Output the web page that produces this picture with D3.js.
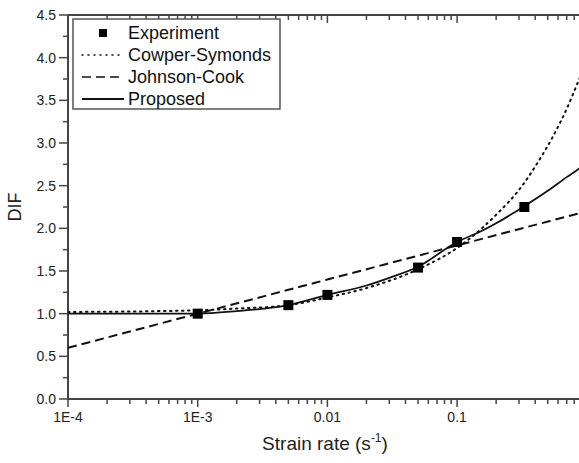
<!DOCTYPE html>
<html>
<head>
<meta charset="utf-8">
<script src="https://cdn.jsdelivr.net/npm/d3@7"></script>
<style>
  html, body { margin: 0; padding: 0; background: #fff; }
  svg { display: block; font-family: "Liberation Sans", Arial, sans-serif; }
</style>
</head>
<body>
<div id="chart"></div>
<script>
const width = 579;
const height = 463;

// Experimental points
const expRate = [0.001, 0.005, 0.01, 0.05, 0.1, 0.33];
const expDIF  = [1.0, 1.10, 1.22, 1.54, 1.84, 2.25];

// Cowper-Symonds curve
const csRate = [1e-4, 5e-4, 1e-3, 2e-3, 5e-3, 0.01, 0.02, 0.05, 0.1, 0.15, 0.2, 0.3, 0.43, 0.55, 0.7, 0.87, 1.0];
const csDIF  = [1.02, 1.03, 1.04, 1.06, 1.10, 1.19, 1.30, 1.52, 1.77, 1.98, 2.16, 2.45, 2.80, 3.08, 3.40, 3.74, 3.95];

// Johnson-Cook line
const jcRate = [1e-4, 1e-3, 0.01, 0.1, 1.0];
const jcDIF  = [0.60, 1.00, 1.40, 1.80, 2.20];

// Proposed model
const prRate = [1e-4, 5e-4, 1e-3, 2e-3, 5e-3, 0.01, 0.02, 0.03, 0.05, 0.1, 0.15, 0.2, 0.33, 0.5, 0.7, 0.87, 1.0];
const prDIF  = [1.0, 1.0, 1.0, 1.03, 1.10, 1.22, 1.33, 1.42, 1.55, 1.84, 1.96, 2.06, 2.26, 2.44, 2.60, 2.70, 2.78];

const xMajor = [1e-4, 1e-3, 0.01, 0.1, 1];
const xLabels = ["1E-4", "1E-3", "0.01", "0.1"];
const yMajor = [0, 0.5, 1, 1.5, 2, 2.5, 3, 3.5, 4, 4.5];

const legendNames = ["Experiment", "Cowper-Symonds", "Johnson-Cook", "Proposed"];

const mLeft = 68, mTop = 15, mBottom = 399;
const decade = 129.7;

const x = d3.scaleLog().domain([1e-4, 1]).range([mLeft, mLeft + 4 * decade]);
const y = d3.scaleLinear().domain([0, 4.5]).range([mBottom, mTop]);

const svg = d3.select("#chart").append("svg")
  .attr("width", width)
  .attr("height", height);

svg.append("defs").append("clipPath").attr("id", "plot")
  .append("rect")
  .attr("x", mLeft).attr("y", mTop)
  .attr("width", width - mLeft).attr("height", mBottom - mTop);

// minor ticks for log axis
const xMinor = [];
xMajor.slice(0, -1).forEach(m => {
  for (let k = 2; k <= 9; k++) xMinor.push(m * k);
});
const yMinor = d3.range(0.25, 4.5, 0.5);

const axisColor = "#444";

// bottom axis
const xb = svg.append("g");
xb.append("line")
  .attr("x1", mLeft).attr("x2", width)
  .attr("y1", mBottom).attr("y2", mBottom)
  .attr("stroke", axisColor).attr("stroke-width", 2);
xb.selectAll(".maj").data(xMajor).join("line")
  .attr("x1", x).attr("x2", x)
  .attr("y1", mBottom).attr("y2", mBottom + 8)
  .attr("stroke", axisColor).attr("stroke-width", 1.5);
xb.selectAll(".min").data(xMinor).join("line")
  .attr("x1", x).attr("x2", x)
  .attr("y1", mBottom).attr("y2", mBottom + 5)
  .attr("stroke", axisColor).attr("stroke-width", 1.5);
xb.selectAll("text").data(xLabels).join("text")
  .attr("x", (d, i) => x(xMajor[i]))
  .attr("y", mBottom + 23)
  .attr("text-anchor", "middle")
  .style("font-size", "14px")
  .attr("fill", "#222")
  .text(d => d);

// top axis (ticks inward)
const xt = svg.append("g");
xt.append("line")
  .attr("x1", mLeft).attr("x2", width)
  .attr("y1", mTop).attr("y2", mTop)
  .attr("stroke", axisColor).attr("stroke-width", 2);
xt.selectAll(".maj").data(xMajor).join("line")
  .attr("x1", x).attr("x2", x)
  .attr("y1", mTop).attr("y2", mTop + 8)
  .attr("stroke", axisColor).attr("stroke-width", 1.5);
xt.selectAll(".min").data(xMinor).join("line")
  .attr("x1", x).attr("x2", x)
  .attr("y1", mTop).attr("y2", mTop + 5)
  .attr("stroke", axisColor).attr("stroke-width", 1.5);

// left axis
const yl = svg.append("g");
yl.append("line")
  .attr("x1", mLeft).attr("x2", mLeft)
  .attr("y1", mTop).attr("y2", mBottom)
  .attr("stroke", axisColor).attr("stroke-width", 2);
yl.selectAll(".maj").data(yMajor).join("line")
  .attr("x1", mLeft - 9).attr("x2", mLeft)
  .attr("y1", y).attr("y2", y)
  .attr("stroke", axisColor).attr("stroke-width", 1.5);
yl.selectAll(".min").data(yMinor).join("line")
  .attr("x1", mLeft - 5).attr("x2", mLeft)
  .attr("y1", y).attr("y2", y)
  .attr("stroke", axisColor).attr("stroke-width", 1.5);
yl.selectAll("text").data(yMajor).join("text")
  .attr("x", mLeft - 12)
  .attr("y", y)
  .attr("dy", "0.35em")
  .attr("text-anchor", "end")
  .style("font-size", "14px")
  .attr("fill", "#222")
  .text(d3.format(".1f"));

// axis titles
svg.append("text")
  .attr("x", 325).attr("y", 450)
  .attr("text-anchor", "middle")
  .style("font-size", "19px")
  .attr("fill", "#222")
  .html('Strain rate (s<tspan dy="-8" style="font-size:12px">-1</tspan><tspan dy="8">)</tspan>');

svg.append("text")
  .attr("transform", "translate(21,207) rotate(-90)")
  .attr("text-anchor", "middle")
  .style("font-size", "18px")
  .attr("fill", "#222")
  .text("DIF");

// curves
const plot = svg.append("g").attr("clip-path", "url(#plot)");
const line = d3.line()
  .x(d => x(d[0]))
  .y(d => y(d[1]))
  .curve(d3.curveMonotoneX);

const series = [
  { rate: csRate, dif: csDIF, dash: "1.5 4.5", cap: "round", w: 2 },
  { rate: jcRate, dif: jcDIF, dash: "9 5", cap: "butt", w: 2 },
  { rate: prRate, dif: prDIF, dash: null, cap: "butt", w: 1.8 }
];

series.forEach(s => {
  plot.append("path")
    .datum(s.rate.map((r, i) => [r, s.dif[i]]))
    .attr("d", line)
    .attr("fill", "none")
    .attr("stroke", "#111")
    .attr("stroke-width", s.w)
    .attr("stroke-linecap", s.cap)
    .attr("stroke-dasharray", s.dash);
});

const sq = 10;
plot.selectAll(".pt").data(expRate).join("rect")
  .attr("x", d => x(d) - sq / 2)
  .attr("y", (d, i) => y(expDIF[i]) - sq / 2)
  .attr("width", sq).attr("height", sq)
  .attr("fill", "#000");

// legend
const lg = svg.append("g").attr("transform", "translate(73,19)");
lg.append("rect")
  .attr("width", 207).attr("height", 90)
  .attr("fill", "#fff")
  .attr("stroke", "#555").attr("stroke-width", 1.5);

const items = lg.selectAll(".item").data(legendNames).join("g")
  .attr("transform", (d, i) => `translate(0, ${14 + i * 22})`);

items.append("text")
  .attr("x", 55).attr("y", 0)
  .attr("dy", "0.35em")
  .style("font-size", "18px")
  .attr("fill", "#111")
  .text(d => d);

items.filter((d, i) => i === 0).append("rect")
  .attr("x", 26).attr("y", -4)
  .attr("width", 8).attr("height", 8)
  .attr("fill", "#000");

items.filter((d, i) => i > 0).append("line")
  .attr("x1", 9).attr("x2", 51)
  .attr("y1", 0).attr("y2", 0)
  .attr("stroke", "#111")
  .attr("stroke-width", (d, i) => i === 2 ? 1.8 : 1.5)
  .attr("stroke-linecap", (d, i) => i === 0 ? "round" : "butt")
  .attr("stroke-dasharray", (d, i) => series[i].dash === "1.5 4.5" ? "1 5" : series[i].dash);
</script>
</body>
</html>
